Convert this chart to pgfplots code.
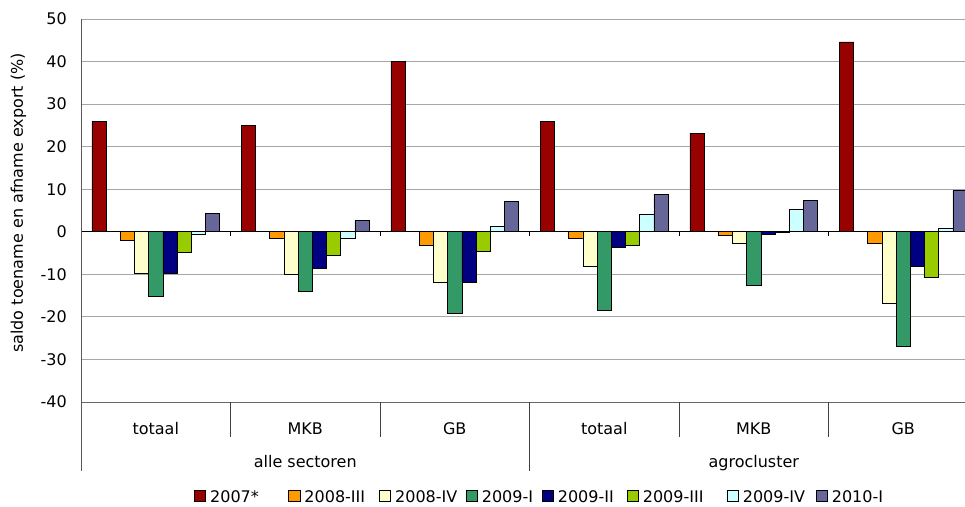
\documentclass[border=0pt]{standalone}
\usepackage{pgfplots}
\pgfplotsset{compat=1.18}
\usepackage{pgfplotstable}
\usepackage{fontspec}
\setmainfont{DejaVu Sans}
\definecolor{c1}{HTML}{990000}
\definecolor{c2}{HTML}{FF9900}
\definecolor{c3}{HTML}{FFFFCC}
\definecolor{c4}{HTML}{339966}
\definecolor{c5}{HTML}{000080}
\definecolor{c6}{HTML}{99CC00}
\definecolor{c7}{HTML}{CCFFFF}
\definecolor{c8}{HTML}{666699}
\pgfplotstableread{
g s1 s2 s3 s4 s5 s6 s7 s8
0 26.0 -2.1 -9.7 -15.1 -9.7 -4.8 -0.6 4.4
1 25.0 -1.5 -9.9 -13.9 -8.5 -5.5 -1.6 2.7
2 40.0 -3.1 -11.9 -19.2 -11.9 -4.6 1.2 7.1
3 26.0 -1.6 -8.2 -18.4 -3.6 -3.1 4.2 8.8
4 23.2 -0.8 -2.6 -12.6 -0.6 -0.2 5.3 7.4
5 44.6 -2.7 -16.8 -27.0 -8.2 -10.7 0.9 9.7
}\data
\pgfplotsset{
  mybar/.style={ybar, bar width=0.095, bar shift=0pt, draw=black, line width=0.6pt,
    legend image code/.code={\draw[##1, draw=black, line width=0.8pt] (0.4pt,1pt) rectangle (11.6pt,11.8pt);}},
}
\begin{document}
\begin{tikzpicture}[font=\fontsize{16}{19}\selectfont]
\useasboundingbox (-81pt,-104pt) rectangle (884pt,402pt);
\begin{axis}[
  at={(0pt,0pt)}, anchor=south west,
  scale only axis, width=884pt, height=383pt,
  xmin=-0.5, xmax=5.413, ymin=-40, ymax=50,
  enlargelimits=false,
  axis line style={draw=none},
  xtick=\empty,
  ytick={-40,-30,-20,-10,0,10,20,30,40,50},
  yticklabels={-40,-30,-20,-10,0,10,20,30,40,50},
  ytick style={draw=none},
  major tick length=0pt,
  yticklabel style={anchor=east, inner sep=0pt, xshift=-14pt},
  ymajorgrids, grid style={color=black!35, line width=0.8pt},
  clip mode=individual,
  ylabel={saldo toename en afname export (\%)},
  every axis y label/.style={at={(axis description cs:-0.0707,0.5196)}, rotate=90, anchor=center},
  legend columns=8,
  legend style={at={(axis description cs:0.1278,-0.2454)}, anchor=west, draw=none, fill=none,
    inner sep=0pt, column sep=0pt, row sep=0pt,
    cells={anchor=base west}, nodes={inner sep=0pt, text depth=0pt}},
]
\addplot[mybar, fill=c1] table[x expr=\thisrow{g}-0.38, y=s1] {\data};
\addplot[mybar, fill=c2] table[x expr=\thisrow{g}-0.19, y=s2] {\data};
\addplot[mybar, fill=c3] table[x expr=\thisrow{g}-0.095, y=s3] {\data};
\addplot[mybar, fill=c4] table[x expr=\thisrow{g}, y=s4] {\data};
\addplot[mybar, fill=c5] table[x expr=\thisrow{g}+0.095, y=s5] {\data};
\addplot[mybar, fill=c6] table[x expr=\thisrow{g}+0.19, y=s6] {\data};
\addplot[mybar, fill=c7] table[x expr=\thisrow{g}+0.285, y=s7] {\data};
\addplot[mybar, fill=c8] table[x expr=\thisrow{g}+0.38, y=s8] {\data};
\legend{\makebox[82.3pt][l]{\hspace{4pt}2007*},
        \makebox[78.7pt][l]{\hspace{4pt}2008-III},
        \makebox[74.7pt][l]{\hspace{4pt}2008-IV},
        \makebox[64pt][l]{\hspace{4pt}2009-I},
        \makebox[73pt][l]{\hspace{4pt}2009-II},
        \makebox[88pt][l]{\hspace{4pt}2009-III},
        \makebox[77pt][l]{\hspace{4pt}2009-IV},
        \hspace{4pt}2010-I}
% zero line with small ticks
\draw[black, line width=0.8pt] (axis cs:-0.5,0) -- (axis cs:5.413,0);
\draw[black, line width=0.8pt] (axis cs:0.5,0) -- ([yshift=-4pt]axis cs:0.5,0);
\draw[black, line width=0.8pt] (axis cs:1.5,0) -- ([yshift=-4pt]axis cs:1.5,0);
\draw[black, line width=0.8pt] (axis cs:2.5,0) -- ([yshift=-4pt]axis cs:2.5,0);
\draw[black, line width=0.8pt] (axis cs:3.5,0) -- ([yshift=-4pt]axis cs:3.5,0);
\draw[black, line width=0.8pt] (axis cs:4.5,0) -- ([yshift=-4pt]axis cs:4.5,0);
% bottom category frame
\draw[black!60, line width=0.8pt] (axis cs:-0.5,-40) -- (axis cs:5.413,-40);
\draw[black!65, line width=0.8pt] (axis cs:-0.5,50) -- ([yshift=-69pt]axis cs:-0.5,-40);
\draw[black!75, line width=0.8pt] (axis cs:0.5,-40) -- ([yshift=-35pt]axis cs:0.5,-40);
\draw[black!75, line width=0.8pt] (axis cs:1.5,-40) -- ([yshift=-35pt]axis cs:1.5,-40);
\draw[black!75, line width=0.8pt] (axis cs:2.5,-40) -- ([yshift=-69pt]axis cs:2.5,-40);
\draw[black!75, line width=0.8pt] (axis cs:3.5,-40) -- ([yshift=-35pt]axis cs:3.5,-40);
\draw[black!75, line width=0.8pt] (axis cs:4.5,-40) -- ([yshift=-35pt]axis cs:4.5,-40);
\node[anchor=base, yshift=-32pt] at (axis cs:0,-40) {totaal};
\node[anchor=base, yshift=-32pt] at (axis cs:1,-40) {MKB};
\node[anchor=base, yshift=-32pt] at (axis cs:2,-40) {GB};
\node[anchor=base, yshift=-32pt] at (axis cs:3,-40) {totaal};
\node[anchor=base, yshift=-32pt] at (axis cs:4,-40) {MKB};
\node[anchor=base, yshift=-32pt] at (axis cs:5,-40) {GB};
\node[anchor=base, yshift=-65pt] at (axis cs:1,-40) {alle sectoren};
\node[anchor=base, yshift=-65pt] at (axis cs:4,-40) {agrocluster};
\end{axis}
\end{tikzpicture}
\end{document}
